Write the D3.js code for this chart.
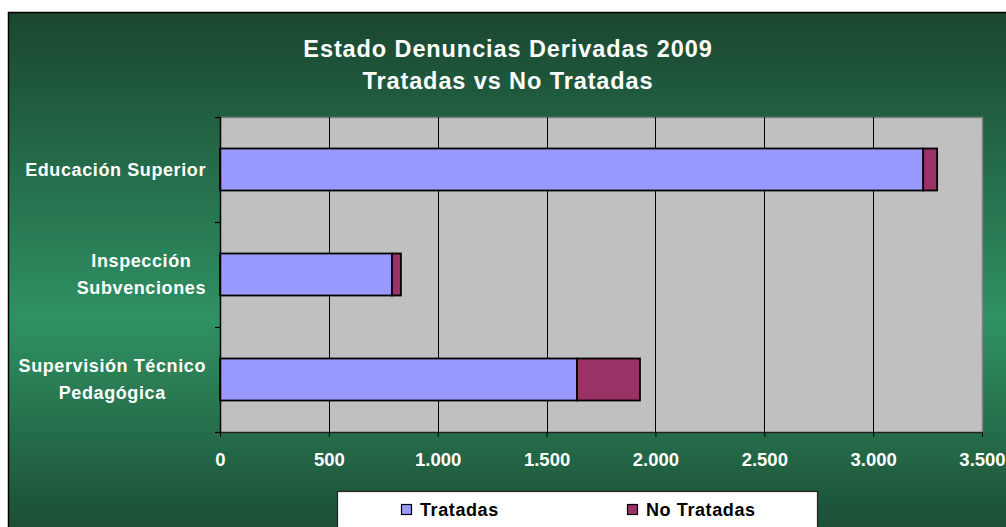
<!DOCTYPE html>
<html><head><meta charset="utf-8">
<script src="https://cdn.jsdelivr.net/npm/d3@7"></script>
<style>
html,body{margin:0;padding:0;background:#fff;}
text{font-family:"Liberation Sans",Arial,sans-serif;font-weight:bold;}
</style></head>
<body>
<svg id="chart" width="1006" height="527"></svg>
<script>
const titleLines = ["Estado Denuncias Derivadas 2009", "Tratadas vs No Tratadas"];
const categories = ["Educación Superior", "Inspección Subvenciones", "Supervisión Técnico Pedagógica"];
const categoryLines = [["Educación Superior"], ["Inspección", "Subvenciones"], ["Supervisión Técnico", "Pedagógica"]];
const seriesNames = ["Tratadas", "No Tratadas"];
const tratadas = [3230, 790, 1640];
const noTratadas = [64, 41, 289];
const xTicks = [0, 500, 1000, 1500, 2000, 2500, 3000, 3500];
const colors = ["#9999FF", "#993366"];

const svg = d3.select("#chart");
const W = 1006, H = 527;
const plot = {left: 220, right: 982, top: 117, bottom: 432};

// background gradient
const defs = svg.append("defs");
const grad = defs.append("linearGradient").attr("id", "bg").attr("x1", 0).attr("y1", 0).attr("x2", 0).attr("y2", 1);
grad.append("stop").attr("offset", "0%").attr("stop-color", "#1a4630");
grad.append("stop").attr("offset", "58%").attr("stop-color", "#2f9163");
grad.append("stop").attr("offset", "100%").attr("stop-color", "#1b4a32");

svg.append("rect").attr("x", 8.5).attr("y", 12.5).attr("width", 1010).attr("height", 530)
  .attr("fill", "url(#bg)").attr("stroke", "#000").attr("stroke-width", 1.5);

// title
svg.append("g").selectAll("text").data(titleLines).join("text")
  .attr("x", 508).attr("y", (d, i) => 57 + i * 32)
  .attr("text-anchor", "middle").attr("fill", "#fff")
  .style("font-size", "23.5px").style("letter-spacing", "0.9px")
  .text(d => d);

const x = d3.scaleLinear().domain([0, 3500]).range([plot.left, plot.right]);
const y = d3.scaleBand().domain(categories).range([plot.top, plot.bottom]).paddingInner(0.6).paddingOuter(0.3);

// plot area
svg.append("rect").attr("x", plot.left).attr("y", plot.top)
  .attr("width", plot.right - plot.left).attr("height", plot.bottom - plot.top)
  .attr("fill", "#C0C0C0");
svg.append("path")
  .attr("d", `M${plot.left},${plot.top + 0.5}H${plot.right + 0.5}V${plot.bottom}`)
  .attr("fill", "none").attr("stroke", "#808080").attr("stroke-width", 1.5);

// gridlines
svg.append("g").selectAll("line").data(xTicks.filter(t => t > 0 && t < 3500)).join("line")
  .attr("x1", d => Math.round(x(d)) + 0.5).attr("x2", d => Math.round(x(d)) + 0.5)
  .attr("y1", plot.top).attr("y2", plot.bottom)
  .attr("stroke", "#000").attr("stroke-width", 1);

// stacked bars
const stackData = categories.map((c, i) => ({cat: c, Tratadas: tratadas[i], "No Tratadas": noTratadas[i]}));
const stack = d3.stack().keys(seriesNames)(stackData);
svg.append("g").selectAll("g").data(stack).join("g")
  .attr("fill", (d, i) => colors[i])
  .selectAll("rect").data(d => d).join("rect")
  .attr("x", d => x(d[0])).attr("width", d => x(d[1]) - x(d[0]))
  .attr("y", d => y(d.data.cat)).attr("height", y.bandwidth())
  .attr("stroke", "#000").attr("stroke-width", 1.8);

// x axis
const xAxis = svg.append("g").attr("transform", `translate(0,${plot.bottom})`)
  .call(d3.axisBottom(x).tickValues(xTicks).tickSize(5).tickSizeOuter(0)
    .tickFormat(d => d3.format(",")(d).replace(/,/g, ".")));
xAxis.select(".domain").attr("stroke", "#222").attr("stroke-width", 1.5);
xAxis.selectAll(".tick line").attr("stroke", "#000");
xAxis.selectAll("text").attr("fill", "#fff").attr("dy", 0).attr("y", 34)
  .style("font-size", "18.5px").style("font-family", "'Liberation Sans',Arial,sans-serif").style("font-weight", "bold");

// y axis line + ticks at band boundaries
const yBounds = d3.range(categories.length + 1).map(i => plot.top + i * (plot.bottom - plot.top) / categories.length);
svg.append("line").attr("x1", plot.left + 0.5).attr("x2", plot.left + 0.5)
  .attr("y1", plot.top).attr("y2", plot.bottom).attr("stroke", "#000").attr("stroke-width", 1.5);
svg.append("g").selectAll("line").data(yBounds).join("line")
  .attr("x1", plot.left - 5).attr("x2", plot.left)
  .attr("y1", d => Math.round(d) + 0.5).attr("y2", d => Math.round(d) + 0.5)
  .attr("stroke", "#000").attr("stroke-width", 1.2);

// category labels
const labelRight = 206;
const lg = svg.append("g");
categories.forEach((c, i) => {
  const lines = categoryLines[i];
  const cy = y(c) + y.bandwidth() / 2;
  const texts = lines.map((ln, j) => lg.append("text")
    .attr("fill", "#fff").attr("text-anchor", "middle")
    .style("font-size", "18px").style("letter-spacing", "0.6px")
    .attr("y", cy + 6 + (j - (lines.length - 1) / 2) * 26.5)
    .text(ln));
  const maxW = d3.max(texts, t => t.node().getComputedTextLength());
  texts.forEach(t => t.attr("x", labelRight - maxW / 2));
});

// legend
const legend = svg.append("g");
legend.append("rect").attr("x", 337.5).attr("y", 491.5).attr("width", 480).attr("height", 60)
  .attr("fill", "#fff").attr("stroke", "#222").attr("stroke-width", 1.2);
const li = legend.selectAll("g").data(seriesNames).join("g")
  .attr("transform", (d, i) => `translate(${401 + i * 226},0)`);
li.append("rect").attr("x", 0.5).attr("y", 504.5).attr("width", 10).attr("height", 10)
  .attr("fill", (d, i) => colors[i]).attr("stroke", "#000").attr("stroke-width", 1.2);
li.append("text").attr("x", 19).attr("y", 515.5).attr("fill", "#000")
  .style("font-size", "18px").style("letter-spacing", "0.6px").text(d => d);
</script>
</body></html>
